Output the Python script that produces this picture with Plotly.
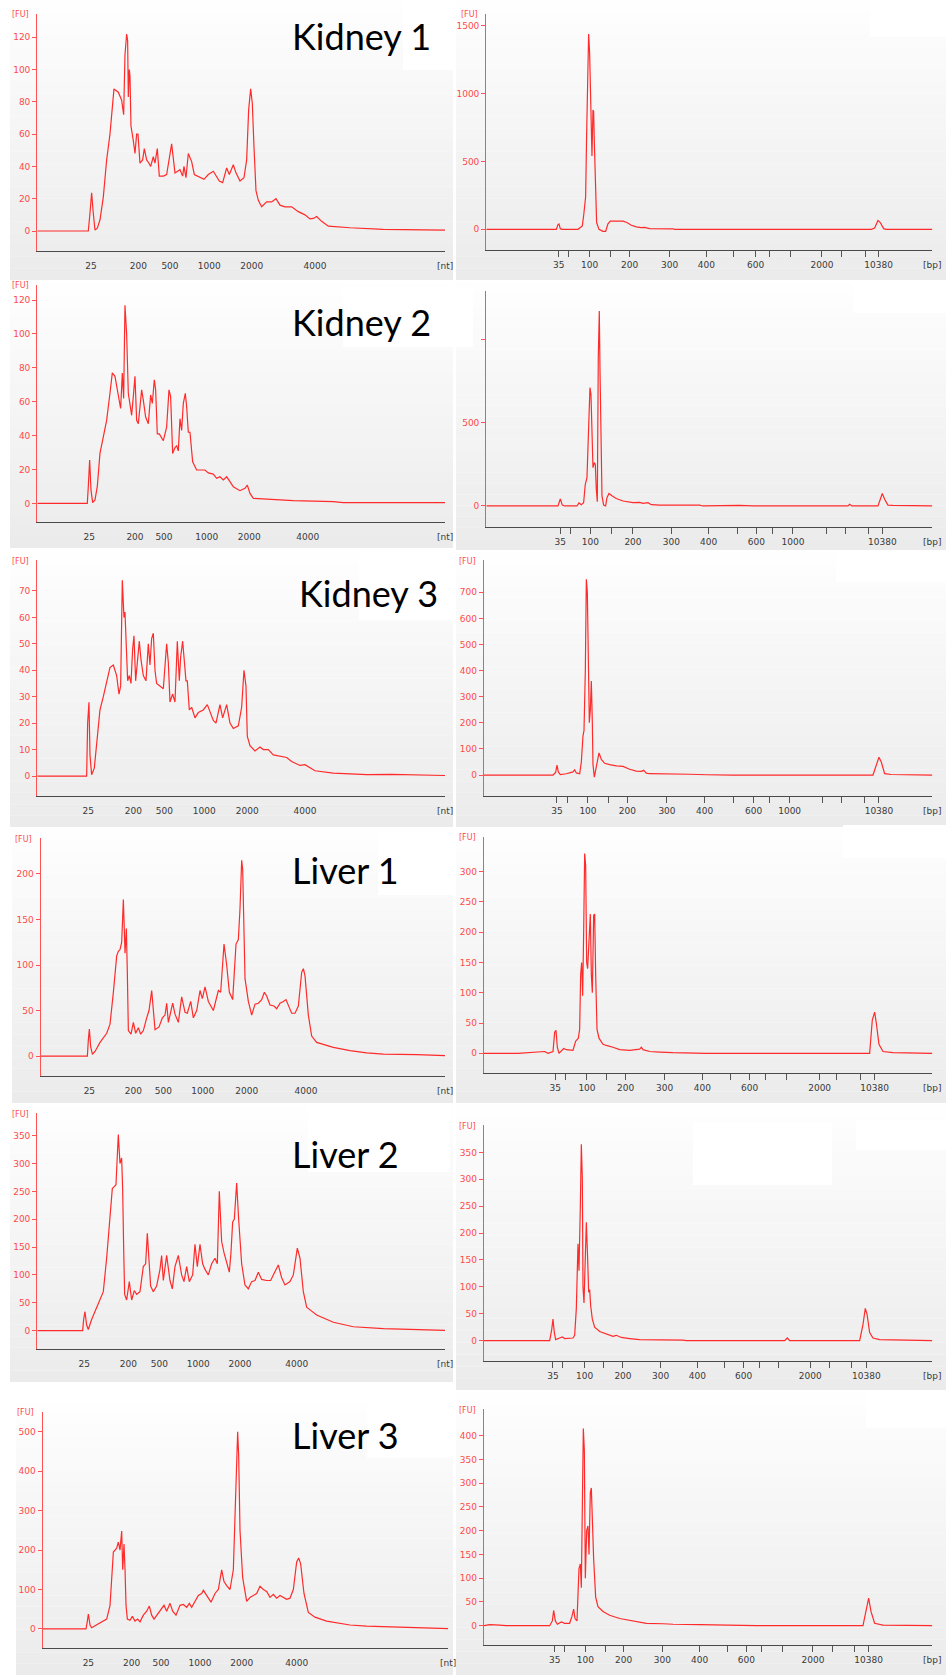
import plotly.graph_objects as go

W, H = 946, 1675

# ---------------- data (migration time units, fluorescence FU) ----------------
NT_LADDER = ["25", "200", "500", "1000", "2000", "4000"]
BP_LADDER = ["35", "50", "100", "150", "200", "300", "400", "500", "600",
             "700", "1000", "2000", "3000", "7000", "10380"]
BP_SHOWN_A = ["35", "100", "200", "300", "400", "600", "2000", "10380"]
BP_SHOWN_B = ["35", "100", "200", "300", "400", "600", "1000", "10380"]

# ladder peak migration times for each run
K1_NT_LAD = [273, 415, 510, 628, 755, 945]
K2_NT_LAD = [268, 405, 492, 620, 748, 923]
K3_NT_LAD = [265, 400, 493, 613, 742, 915]
L1_NT_LAD = [268, 400, 490, 608, 740, 918]
L2_NT_LAD = [253, 385, 478, 595, 720, 890]
L3_NT_LAD = [265, 395, 483, 600, 725, 890]
K1_BP_LAD = [257, 287, 350, 413, 470, 590, 700, 783, 848, 890, 952, 1047, 1105, 1177, 1217]
K2_BP_LAD = [262, 292, 352, 415, 480, 595, 707, 795, 850, 900, 960, 1060, 1118, 1188, 1228]
K3_BP_LAD = [252, 283, 345, 408, 463, 582, 695, 783, 842, 890, 950, 1050, 1105, 1175, 1218]
L1_BP_LAD = [247, 277, 342, 400, 458, 575, 688, 772, 830, 878, 940, 1040, 1092, 1162, 1205]
L2_BP_LAD = [240, 270, 335, 393, 450, 563, 673, 755, 812, 860, 918, 1012, 1070, 1137, 1180]
L3_BP_LAD = [245, 275, 337, 397, 452, 568, 680, 763, 820, 866, 928, 1020, 1078, 1145, 1187]

# y tick values
YT_K1_NT = [0, 20, 40, 60, 80, 100, 120]
YT_K2_NT = [0, 20, 40, 60, 80, 100, 120]
YT_K3_NT = [0, 10, 20, 30, 40, 50, 60, 70]
YT_L1_NT = [0, 50, 100, 150, 200]
YT_L2_NT = [0, 50, 100, 150, 200, 250, 300, 350]
YT_L3_NT = [0, 100, 200, 300, 400, 500]
YT_K1_BP = [0, 500, 1000, 1500]
YT_K2_BP = [0, 500, 1000]
YT_K3_BP = [0, 100, 200, 300, 400, 500, 600, 700]
YT_L1_BP = [0, 50, 100, 150, 200, 250, 300]
YT_L2_BP = [0, 50, 100, 150, 200, 250, 300, 350]
YT_L3_BP = [0, 50, 100, 150, 200, 250, 300, 350, 400]

# traces (time, FU)
KIDNEY1_NT = [(112, 0), (265, 0), (270, 11), (275, 23.7), (280, 11), (285, 0.6), (292, 1.7), (300, 6.8),
              (310, 21), (320, 44), (330, 60), (337, 77), (342, 88), (355, 86), (365, 81), (371, 72),
              (375, 109), (380, 122), (383, 118), (385, 83), (388, 100), (390, 96), (393, 65), (400, 56),
              (405, 48), (410, 60), (414, 60), (420, 42), (428, 44), (433, 51), (440, 44), (447, 42),
              (452, 40), (460, 46), (465, 42), (472, 51), (478, 34), (490, 34), (500, 35), (515, 54),
              (525, 36), (540, 38), (548, 34), (552, 40), (558, 33), (565, 48), (575, 43), (583, 35),
              (600, 33), (612, 32), (625, 35), (640, 37), (658, 31), (668, 30), (680, 39), (688, 35),
              (700, 41), (708, 36), (720, 31), (732, 33), (740, 44), (746, 75), (752, 88), (757, 79),
              (762, 52), (768, 25), (775, 19), (785, 15), (800, 18), (815, 18), (828, 20), (840, 16),
              (855, 15), (875, 15), (895, 12), (915, 10), (930, 7.5), (940, 7.8), (950, 9), (965, 6),
              (985, 3), (1050, 2), (1150, 1), (1335, 0.6)]
KIDNEY2_NT = [(112, 0), (262, 0), (265, 10), (269, 25.6), (273, 8), (278, 0.5), (285, 2), (292, 10),
              (300, 29.5), (310, 39), (320, 49), (330, 65), (337, 77), (345, 75), (355, 65), (362, 56),
              (367, 77), (371, 62), (375, 117), (380, 100), (385, 65), (390, 57), (395, 52), (400, 63),
              (405, 75), (410, 49), (415, 47), (420, 57), (425, 67), (430, 61), (437, 51), (445, 47),
              (452, 64), (457, 59), (463, 73), (467, 67), (472, 41), (478, 41), (490, 37), (500, 45),
              (507, 67), (512, 63), (518, 29.5), (525, 33), (530, 34), (535, 31), (540, 50), (545, 43),
              (550, 59), (556, 65), (560, 57), (565, 42), (570, 42), (578, 24.6), (590, 19.7),
              (605, 19.7), (615, 19.7), (625, 18), (640, 17.3), (650, 14.8), (660, 15.7), (670, 13.8),
              (680, 15.7), (690, 12.8), (700, 9.8), (720, 7.5), (735, 8.9), (742, 10.8), (750, 5.9),
              (760, 3), (800, 2.4), (880, 1.6), (1000, 1), (1030, 0.4), (1335, 0.4)]
KIDNEY3_NT = [(112, 0), (260, 0), (263, 20), (267, 27.9), (270, 8), (275, 0.5), (283, 3), (290, 11.7),
              (300, 25), (310, 30), (320, 35), (330, 41), (340, 42), (350, 38), (357, 31), (362, 34),
              (367, 74), (372, 60), (375, 62), (380, 45), (383, 36), (388, 38), (393, 35), (398, 48),
              (402, 53), (407, 36), (412, 44), (418, 51), (423, 44), (430, 38), (438, 36), (445, 50),
              (450, 42), (455, 52), (460, 54), (465, 40), (470, 35), (480, 34), (490, 33), (500, 50),
              (505, 43), (510, 28), (518, 31), (525, 28), (532, 51), (538, 36), (542, 45), (548, 51),
              (552, 45), (558, 36), (562, 36), (568, 25), (575, 26), (585, 22), (595, 24), (610, 25),
              (622, 27), (630, 24), (640, 21), (648, 20), (660, 27), (668, 22), (680, 27), (690, 20),
              (700, 18), (715, 19), (725, 26), (732, 40), (738, 34), (742, 15), (750, 11.5),
              (765, 9.5), (780, 11), (790, 10), (805, 10), (820, 8), (845, 7.5), (860, 7), (875, 5.5),
              (900, 4), (915, 4.3), (925, 3.5), (945, 2), (1000, 1.1), (1100, 0.5), (1175, 0.6),
              (1335, 0.2)]
LIVER1_NT = [(122, 0), (262, 0), (265, 18), (268, 29.7), (272, 10), (277, 2), (285, 5), (300, 15),
             (320, 25), (330, 35), (340, 70), (350, 110), (355, 115), (360, 117), (365, 125), (370, 172),
             (375, 113), (379, 140), (382, 90), (385, 28), (393, 24), (400, 37), (407, 25), (415, 31),
             (422, 24), (430, 28), (440, 42), (447, 50), (455, 72), (460, 52), (465, 29), (477, 32),
             (487, 42), (495, 45), (500, 58), (505, 37), (512, 48), (518, 58), (525, 46), (535, 37),
             (545, 65), (555, 48), (562, 47), (572, 60), (580, 42), (590, 50), (600, 72), (607, 63),
             (615, 76), (625, 60), (640, 50), (655, 72), (662, 70), (672, 123), (680, 100), (688, 70),
             (698, 62), (708, 123), (715, 128), (720, 162), (725, 215), (728, 205), (735, 85),
             (745, 60), (755, 45), (765, 57), (775, 58), (785, 62), (793, 70), (800, 66), (810, 56),
             (822, 55), (830, 52), (840, 58), (850, 60), (858, 62), (867, 54), (875, 47), (885, 47),
             (895, 55), (905, 92), (910, 96), (915, 88), (925, 45), (935, 22), (950, 15), (1000, 9.5),
             (1050, 6), (1100, 3.5), (1150, 2), (1250, 1.5), (1335, 0.5)]
LIVER2_NT = [(112, 0), (248, 0), (251, 20), (255, 34), (260, 10), (265, 2), (275, 20), (285, 35),
             (300, 55), (310, 70), (320, 130), (330, 200), (337, 255), (342, 258), (348, 262),
             (355, 352), (360, 300), (365, 310), (368, 255), (371, 150), (374, 65), (380, 55),
             (388, 88), (395, 55), (403, 72), (410, 65), (420, 70), (430, 115), (437, 120), (442, 175),
             (447, 120), (452, 80), (460, 70), (470, 80), (480, 110), (485, 135), (490, 90), (500, 135),
             (510, 90), (517, 75), (525, 115), (535, 135), (545, 100), (552, 88), (560, 115), (568, 88),
             (578, 100), (585, 155), (592, 115), (600, 155), (608, 120), (615, 110), (625, 100),
             (635, 120), (645, 130), (652, 120), (658, 250), (665, 160), (672, 140), (680, 120),
             (688, 105), (693, 140), (698, 195), (703, 200), (710, 265), (716, 200), (725, 120),
             (735, 82), (745, 75), (755, 88), (765, 90), (775, 105), (785, 92), (800, 90), (812, 90),
             (820, 100), (835, 118), (845, 95), (855, 82), (870, 88), (880, 100), (892, 148),
             (900, 130), (910, 70), (920, 42), (935, 35), (950, 28), (1000, 15), (1060, 7),
             (1150, 3.5), (1250, 2), (1335, 0.5)]
LIVER3_NT = [(128, 0), (258, 0), (262, 20), (265, 38), (270, 10), (275, 3), (285, 8), (300, 15),
             (320, 25), (330, 60), (340, 195), (350, 205), (355, 220), (360, 200), (365, 248),
             (368, 150), (372, 215), (375, 150), (378, 60), (382, 25), (390, 22), (397, 32), (405, 20),
             (413, 25), (420, 18), (430, 35), (440, 45), (448, 58), (455, 35), (462, 25), (470, 35),
             (480, 45), (492, 60), (500, 45), (510, 65), (518, 45), (528, 35), (540, 60), (550, 62),
             (560, 55), (568, 65), (575, 55), (585, 70), (595, 85), (605, 90), (610, 98), (620, 85),
             (633, 68), (645, 90), (655, 100), (665, 150), (672, 120), (680, 110), (690, 100),
             (700, 150), (705, 300), (710, 440), (713, 500), (716, 440), (720, 250), (728, 130),
             (740, 70), (750, 80), (760, 85), (770, 90), (780, 108), (790, 100), (800, 95), (810, 80),
             (820, 88), (830, 78), (840, 85), (852, 80), (860, 75), (870, 78), (880, 100), (890, 170),
             (896, 180), (902, 165), (912, 90), (925, 42), (945, 30), (980, 20), (1050, 10),
             (1100, 7), (1200, 4), (1345, 1)]

KIDNEY1_BP = [(40, 0), (250, 0), (255, 35), (258, 40), (262, 5), (268, 0), (315, 0), (322, 15),
              (328, 25), (332, 100), (336, 240), (338, 240), (341, 700), (344, 1200), (347, 1440),
              (350, 1300), (352, 1050), (355, 580), (357, 540), (360, 880), (362, 870), (364, 650),
              (366, 500), (368, 300), (371, 50), (378, 0), (390, -15), (398, -15), (405, 40), (412, 60),
              (430, 60), (450, 60), (462, 50), (475, 30), (490, 18), (505, 12), (515, 15), (522, 8),
              (530, 5), (600, 4), (605, 0), (1195, 0), (1205, 10), (1215, 65), (1222, 50), (1232, 5),
              (1240, 0), (1378, 0)]
KIDNEY2_BP = [(40, 0), (255, 0), (262, 42), (268, 5), (275, 0), (312, 0), (318, 18), (325, 8),
              (332, 20), (337, 130), (342, 170), (347, 420), (351, 710), (354, 670), (357, 450),
              (360, 230), (364, 260), (367, 250), (370, 100), (373, 25), (376, 900), (379, 1170),
              (381, 830), (384, 250), (387, 60), (392, 5), (398, 0), (402, 50), (408, 75), (418, 60),
              (430, 45), (450, 30), (480, 20), (500, 22), (510, 16), (525, 20), (535, 8), (560, 5),
              (680, 5), (690, 0), (720, 2), (800, 4), (840, 0), (1125, 0), (1130, 10), (1137, 0),
              (1215, 0), (1222, 40), (1228, 75), (1235, 40), (1245, 5), (1260, 3), (1378, 0)]
KIDNEY3_BP = [(33, 0), (240, 0), (248, 10), (252, 38), (256, 12), (262, 2), (280, 5), (300, 12),
              (305, 20), (310, 8), (320, 5), (325, 50), (330, 150), (333, 170), (337, 400), (340, 750),
              (343, 700), (346, 450), (349, 200), (352, 250), (355, 360), (358, 200), (360, 40),
              (364, -8), (370, 30), (378, 85), (385, 60), (395, 45), (410, 40), (430, 35), (450, 33),
              (470, 22), (490, 15), (505, 14), (512, 18), (520, 7), (530, 5), (620, 5), (650, 3),
              (700, 1), (780, 0), (1200, 0), (1212, 50), (1218, 68), (1225, 50), (1235, 5), (1255, 2),
              (1378, 0)]
LIVER1_BP = [(33, 0), (135, 0), (215, 3), (225, 0), (240, 3), (245, 35), (249, 38), (253, 10), (258, 0),
             (265, 5), (272, 8), (280, 6), (300, 5), (308, 20), (316, 25), (320, 40), (323, 130),
             (326, 150), (329, 95), (332, 200), (335, 330), (338, 310), (341, 150), (344, 140),
             (348, 200), (352, 230), (355, 130), (358, 100), (362, 228), (365, 230), (368, 130),
             (372, 40), (378, 25), (390, 15), (400, 13), (410, 12), (420, 10), (440, 6), (470, 5),
             (500, 7), (505, 10), (510, 6), (530, 3), (560, 2), (600, 1), (700, 0), (1130, 0),
             (1150, 1), (1190, 0), (1198, 55), (1205, 68), (1210, 50), (1218, 15), (1230, 3),
             (1260, 1), (1378, 0)]
LIVER2_BP = [(33, 0), (100, 0), (110, 1), (120, 0), (150, 1), (160, 0), (230, 0), (236, 20), (240, 40),
             (244, 15), (248, 2), (260, 5), (268, 7), (275, 4), (300, 5), (305, 10), (310, 60),
             (315, 180), (318, 130), (322, 250), (325, 365), (328, 300), (330, 100), (333, 70),
             (337, 150), (340, 220), (343, 170), (347, 90), (350, 95), (353, 65), (358, 40), (365, 25),
             (380, 17), (400, 12), (420, 8), (430, 10), (445, 6), (470, 4), (500, 2), (630, 1),
             (640, 0), (935, 0), (943, 5), (950, 0), (1160, 0), (1170, 30), (1177, 60), (1182, 50),
             (1190, 15), (1200, 5), (1220, 2), (1378, 0)]
LIVER3_BP = [(33, 0), (50, 2), (80, 1), (100, 0), (230, 0), (238, 10), (242, 32), (247, 10), (253, 3),
             (265, 8), (275, 5), (290, 5), (297, 20), (302, 35), (306, 15), (312, 10), (318, 120),
             (322, 130), (325, 80), (328, 270), (331, 415), (334, 370), (337, 100), (341, 200),
             (345, 210), (348, 150), (352, 280), (355, 290), (358, 220), (362, 140), (368, 60),
             (375, 40), (390, 30), (410, 22), (440, 15), (480, 10), (520, 5), (570, 4), (600, 3),
             (680, 2), (760, 1), (850, 0), (1170, 0), (1180, 30), (1187, 58), (1194, 30), (1205, 5),
             (1230, 1), (1378, 0)]

TITLES = ["Kidney 1", "Kidney 2", "Kidney 3", "Liver 1", "Liver 2", "Liver 3"]

# ---------------- layout ----------------
RED = "#ff2a2a"
RED_AX = "#ff5252"
RED_TXT = "#ff4a4a"
GREY_TXT = "#3a3a3a"
TICKFONT = "DejaVu Sans"


def px(x):
    return x / W


def py(y):
    return 1 - y / H


# (data, ladder, kind, plot box px (x0, x1, ytop, ybot), xrange, yrange, yticks, shown bp labels, FU label)
panels = [
    (KIDNEY1_NT, K1_NT_LAD, "nt", (37.3, 445, 14, 250.7), (112, 1335), (-12.2, 134.4), YT_K1_NT, None, True),
    (KIDNEY1_BP, K1_BP_LAD, "bp", (486.3, 932.3, 14, 250), (40, 1378), (-152.4, 1588), YT_K1_BP, BP_SHOWN_A, True),
    (KIDNEY2_NT, K2_NT_LAD, "nt", (37.3, 445, 285, 521.7), (112, 1335), (-10.8, 128.9), YT_K2_NT, None, True),
    (KIDNEY2_BP, K2_BP_LAD, "bp", (486.3, 932.3, 290.7, 527.3), (40, 1378), (-128, 1292), YT_K2_BP, BP_SHOWN_B, False),
    (KIDNEY3_NT, K3_NT_LAD, "nt", (37.3, 445, 560, 795.7), (112, 1335), (-7.44, 81.7), YT_K3_NT, None, True),
    (KIDNEY3_BP, K3_BP_LAD, "bp", (484, 932.3, 560, 795.7), (33, 1378), (-79.2, 823.8), YT_K3_BP, BP_SHOWN_B, True),
    (LIVER1_NT, L1_NT_LAD, "nt", (40.7, 445, 838.3, 1075.7), (122, 1335), (-21.6, 239.2), YT_L1_NT, None, True),
    (LIVER1_BP, L1_BP_LAD, "bp", (484, 932.3, 836.7, 1073.3), (33, 1378), (-33, 357.7), YT_L1_BP, BP_SHOWN_A, True),
    (LIVER2_NT, L2_NT_LAD, "nt", (37.3, 445, 1113.3, 1349.3), (112, 1335), (-33.5, 390.2), YT_L2_NT, None, True),
    (LIVER2_BP, L2_BP_LAD, "bp", (484, 932.3, 1125, 1360.7), (33, 1378), (-37.2, 400.9), YT_L2_BP, BP_SHOWN_A, True),
    (LIVER3_NT, L3_NT_LAD, "nt", (42.7, 448.3, 1411.7, 1648.3), (128, 1345), (-49, 550.7), YT_L3_NT, None, True),
    (LIVER3_BP, L3_BP_LAD, "bp", (484, 932.3, 1409, 1645), (33, 1378), (-40.7, 456.1), YT_L3_BP, BP_SHOWN_A, True),
]

# panel backgrounds (px)
BG_BOXES = [(10, 0, 453, 280), (456, 0, 946, 280),
            (10, 284, 453, 548), (456, 283, 946, 550),
            (10, 553, 453, 827), (456, 552, 946, 827),
            (12, 828, 453, 1103), (456, 828, 946, 1103),
            (10, 1107, 453, 1382), (456, 1105, 946, 1390),
            (16, 1402, 453, 1675), (456, 1392, 946, 1675)]
WHITE_BOXES = [(403, 0, 453, 70), (343, 287, 473, 347), (359, 552, 453, 620), (378, 832, 453, 895),
               (308, 1107, 450, 1172), (367, 1402, 453, 1458), (870, 0, 946, 37), (853, 280, 946, 313),
               (836, 552, 946, 582), (843, 825, 946, 858), (693, 1122, 832, 1185), (856, 1120, 946, 1150),
               (866, 1392, 946, 1428)]
TITLE_POS = [(290, 34), (290, 320), (297, 591), (290, 868), (290, 1152), (290, 1433)]

shapes = []
NB = 24
top_c, bot_c = 254, 235
for (x0, y0, x1, y1) in BG_BOXES:
    for k in range(NB):
        ya = y0 + (y1 - y0) * k / NB
        yb = y0 + (y1 - y0) * (k + 1) / NB
        c = round(top_c + (bot_c - top_c) * (k + 0.5) / NB)
        shapes.append(dict(type="rect", xref="paper", yref="paper", x0=px(x0), x1=px(x1),
                           y0=py(yb), y1=py(ya), fillcolor=f"rgb({c},{c},{c})",
                           line=dict(width=0), layer="below"))
for (x0, y0, x1, y1) in WHITE_BOXES:
    shapes.append(dict(type="rect", xref="paper", yref="paper", x0=px(x0), x1=px(x1),
                       y0=py(y1), y1=py(y0), fillcolor="white", line=dict(width=0), layer="below"))

fig = go.Figure()
annotations = []
layout_axes = {}
for i, (data, lad, kind, box, xr, yr, yt, shown, fu) in enumerate(panels, start=1):
    sfx = "" if i == 1 else str(i)
    xs = [a for a, b in data]
    ys = [b for a, b in data]
    fig.add_trace(go.Scatter(x=xs, y=ys, mode="lines", line=dict(color=RED, width=1.2),
                             xaxis="x" + sfx, yaxis="y" + sfx, hoverinfo="skip", showlegend=False))
    x0, x1, ytop, ybot = box
    if kind == "nt":
        ttext = NT_LADDER
        tcol = "rgba(0,0,0,0)"
        unit = "[nt]"
    else:
        ttext = [lab if lab in shown else "" for lab in BP_LADDER]
        tcol = "#555555"
        unit = "[bp]"
    layout_axes["xaxis" + sfx] = dict(
        domain=[px(x0), px(x1)], range=list(xr), anchor="y" + sfx,
        showline=True, linecolor="#4a4a4a", linewidth=1.2, showgrid=False, zeroline=False,
        tickmode="array", tickvals=lad, ticktext=ttext, ticks="outside", ticklen=6,
        tickcolor=tcol, tickwidth=1, tickangle=0,
        tickfont=dict(family=TICKFONT, size=9, color=GREY_TXT), fixedrange=True)
    ylabels = [str(v) for v in yt]
    if kind == "bp" and not fu:
        ylabels = [s if s != "1000" else "" for s in ylabels]
    layout_axes["yaxis" + sfx] = dict(
        domain=[py(ybot), py(ytop)], range=list(yr), anchor="x" + sfx,
        showline=True, linecolor=RED_AX, linewidth=1.3, showgrid=False, zeroline=False,
        tickmode="array", tickvals=yt, ticktext=ylabels, ticks="outside", ticklen=4,
        tickcolor=RED_AX, tickfont=dict(family=TICKFONT, size=9, color=RED_TXT), fixedrange=True)
    # unit label at end of x axis
    annotations.append(dict(x=px(x1), y=py(ybot + 15), xref="paper", yref="paper", text=unit,
                            showarrow=False, xanchor="center", yanchor="middle",
                            font=dict(family=TICKFONT, size=9, color=GREY_TXT)))
    if fu:
        annotations.append(dict(x=px(x0 - 17), y=py(ytop + 1), xref="paper", yref="paper", text="[FU]",
                                showarrow=False, xanchor="center", yanchor="middle",
                                font=dict(family=TICKFONT, size=8, color=RED_TXT)))

for (tx, ty), t in zip(TITLE_POS, TITLES):
    annotations.append(dict(x=px(tx), y=py(ty + 2), xref="paper", yref="paper", text=t,
                            showarrow=False, xanchor="left", yanchor="middle",
                            font=dict(family="Lato", size=36, color="black")))

fig.update_layout(width=W, height=H, margin=dict(l=0, r=0, t=0, b=0),
                  paper_bgcolor="white", plot_bgcolor="rgba(0,0,0,0)",
                  shapes=shapes, annotations=annotations, showlegend=False, **layout_axes)

fig.write_html("out.html", config={"displayModeBar": False})
